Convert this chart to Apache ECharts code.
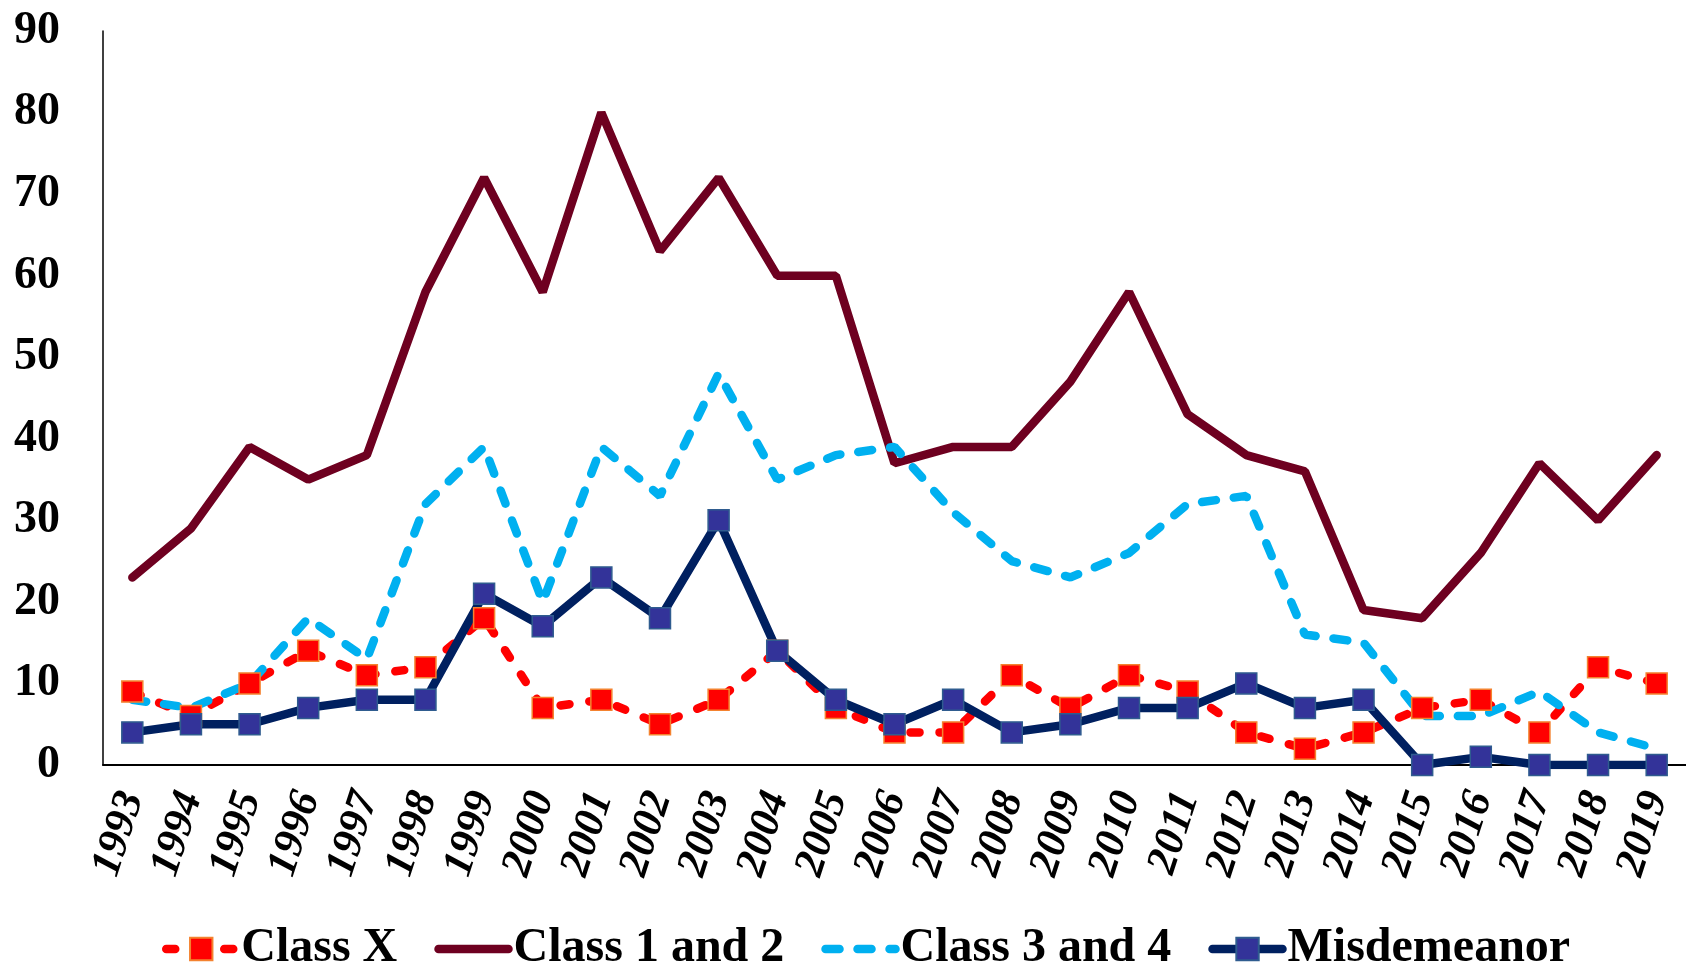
<!DOCTYPE html>
<html>
<head>
<meta charset="utf-8">
<script src="https://cdn.jsdelivr.net/npm/echarts@6/dist/echarts.min.js"></script>
<style>
html,body{margin:0;padding:0;background:#fff;}
#chart{width:1686px;height:969px;}
</style>
</head>
<body>
<div id="chart"></div>
<script>
const years = ['1993','1994','1995','1996','1997','1998','1999','2000','2001','2002','2003','2004','2005','2006','2007','2008','2009','2010','2011','2012','2013','2014','2015','2016','2017','2018','2019'];
const classX = [9,6,10,14,11,12,18,7,8,5,8,14,7,4,4,11,7,11,9,4,2,4,7,8,4,12,10];
const class12 = [23,29,39,35,38,58,72,58,80,63,72,60,60,37,39,39,47,58,43,38,36,19,18,26,37,30,38];
const class34 = [8,7,10,18,13,32,39,20,39,33,48,35,38,39,31,25,23,26,32,33,16,15,6,6,9,4,2];
const misdemeanor = [4,5,5,7,8,8,21,17,23,18,30,14,8,5,8,4,5,7,7,10,7,8,0,1,0,0,0];
const yTicks = {min:0, max:90, interval:10};

const FONT = '"Liberation Serif", "Times New Roman", serif';
const LW = 8.5;
const chart = echarts.init(document.getElementById('chart'), null, {renderer:'canvas'});
chart.setOption({
  backgroundColor:'#ffffff',
  animation:false,
  grid:{left:103, top:31, width:1592, bottom:204, containLabel:false},
  legend:{
    left:157, top:920,
    itemWidth:70, itemHeight:28, itemGap:37,
    textStyle:{fontFamily:FONT, fontWeight:'bold', fontSize:48, color:'#000'},
    lineStyle:{width:LW},
    data:[
      {name:'Class X'},
      {name:'Class 1 and 2', itemStyle:{opacity:0}},
      {name:'Class 3 and 4', itemStyle:{opacity:0}},
      {name:'Misdemeanor'}
    ]
  },
  xAxis:{
    type:'category', data:years, boundaryGap:true,
    axisLine:{lineStyle:{color:'#000', width:2}},
    axisTick:{show:false},
    axisLabel:{rotate:72, margin:28, interval:0, fontFamily:FONT, fontWeight:'bold', fontStyle:'italic', fontSize:43, color:'#000'}
  },
  yAxis:{
    type:'value', min:yTicks.min, max:yTicks.max, interval:yTicks.interval,
    axisLine:{show:true, lineStyle:{color:'#000', width:1.5}},
    axisTick:{show:false},
    splitLine:{show:false},
    axisLabel:{margin:43, fontFamily:FONT, fontWeight:'bold', fontSize:46, color:'#000'}
  },
  series:[
    {name:'Class X', type:'line', data:classX, symbol:'rect', symbolSize:21,
     lineStyle:{color:'#FF0000', width:LW, type:[9,20], cap:'round'},
     itemStyle:{color:'#FF0000', borderColor:'#F4822F', borderWidth:1.5}},
    {name:'Class 1 and 2', type:'line', data:class12, symbol:'none',
     lineStyle:{color:'#6E0020', width:LW, cap:'round'},
     itemStyle:{color:'#6E0020'}},
    {name:'Class 3 and 4', type:'line', data:class34, symbol:'none',
     lineStyle:{color:'#00B0F0', width:LW, type:[14,18], cap:'round'},
     itemStyle:{color:'#00B0F0'}},
    {name:'Misdemeanor', type:'line', data:misdemeanor, symbol:'rect', symbolSize:21,
     lineStyle:{color:'#002060', width:LW, cap:'round'},
     itemStyle:{color:'#333399', borderColor:'#2F5C8F', borderWidth:1.5}}
  ]
});
</script>
</body>
</html>
